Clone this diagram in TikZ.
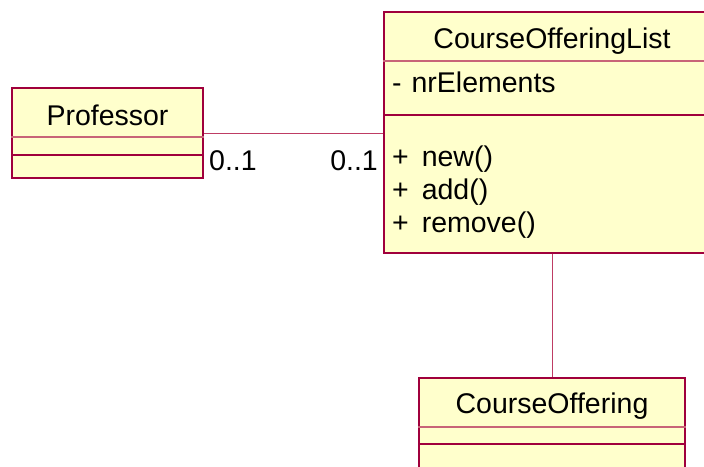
\documentclass[tikz,border=0pt]{standalone}
\usepackage{fontspec}
\setmainfont{Liberation Sans}
\usepackage{tikz}
\usetikzlibrary{positioning}

\definecolor{umlborder}{RGB}{160,0,60}
\definecolor{umlfill}{RGB}{255,255,204}
\definecolor{umlsep}{RGB}{200,100,120}
\definecolor{umlline}{RGB}{190,60,100}
\newcommand{\umlfont}{\fontsize{28.5}{33}\selectfont}
\newcommand{\umlop}[1]{+\hspace{5pt} #1}

\begin{document}
\begin{tikzpicture}[x=1pt,y=-1pt,
    classbox/.style={draw=umlborder,fill=umlfill,line width=1.3pt,inner sep=0pt},
    titlesep/.style={draw=umlsep,line width=1.1pt},
    partsep/.style={draw=umlborder,line width=1.1pt},
    member/.style={anchor=base west,inner sep=0pt,font=\umlfont},
    classname/.style={anchor=base,inner sep=0pt,font=\umlfont},
    assoc/.style={draw=umlline,line width=0.9pt}]
  \clip (0,0) rectangle (704,466);

  % Professor
  \node[classbox,minimum width=191pt,minimum height=90pt] (prof) at (107.5,133) {};
  \node[classname] (prof name) at (prof.center |- 0,125) {Professor};
  \draw[titlesep] (prof.west |- 0,137) -- (prof.east |- 0,137);
  \draw[partsep] (prof.west |- 0,155) -- (prof.east |- 0,155);

  % CourseOfferingList
  \node[classbox,minimum width=336pt,minimum height=241pt] (list) at (552,132.5) {};
  \node[classname] (list name) at (list.center |- 0,48) {CourseOfferingList};
  \draw[titlesep] (list.west |- 0,61) -- (list.east |- 0,61);
  \draw[partsep] (list.west |- 0,115) -- (list.east |- 0,115);
  \node[member] (nr) at (392,92) {-\hspace{2pt} nrElements};
  \node[member] (new) at (392,166) {\umlop{new()}};
  \node[member,below=33pt of new.base west,anchor=base west] (add) {\umlop{add()}};
  \node[member,below=33pt of add.base west,anchor=base west] (remove) {\umlop{remove()}};

  % CourseOffering
  \node[classbox,minimum width=266pt,minimum height=112pt] (co) at (552,434) {};
  \node[classname] (co name) at (co.center |- 0,413) {CourseOffering};
  \draw[titlesep] (co.west |- 0,427) -- (co.east |- 0,427);
  \draw[partsep] (co.west |- 0,444) -- (co.east |- 0,444);

  % associations
  \draw[assoc] (prof.east) -- (list.west |- prof.east);
  \draw[assoc] (list.south) -- (co.north);
  \node[member] (prof mult) at (209,170) {0..1};
  \node[member,anchor=base east] (list mult) at (378,170) {0..1};
\end{tikzpicture}
\end{document}
